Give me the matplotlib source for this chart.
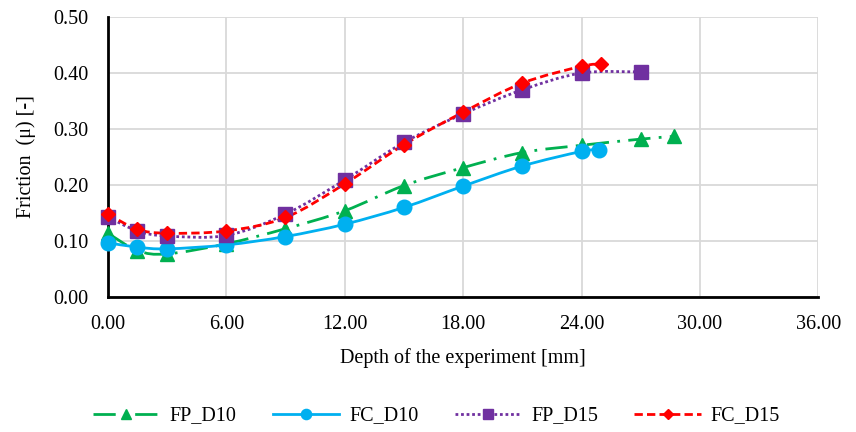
# friccion vs profundidad, 4 series con curvas suavizadas tipo Excel

import numpy as np
import matplotlib.pyplot as plt
from matplotlib.path import Path
from matplotlib.patches import PathPatch
from matplotlib.lines import Line2D

plt.rcParams['font.family'] = ['Liberation Serif', 'DejaVu Serif']

x_fp_d10 = [0, 1.5, 3, 6, 9, 12, 15, 18, 21, 24, 27, 28.7]
y_fp_d10 = [0.114, 0.083, 0.077, 0.095, 0.122, 0.154, 0.199, 0.231, 0.258, 0.271, 0.282, 0.287]

x_fc_d10 = [0, 1.5, 3, 6, 9, 12, 15, 18, 21, 24, 24.9]
y_fc_d10 = [0.097, 0.089, 0.086, 0.093, 0.108, 0.130, 0.160, 0.198, 0.234, 0.260, 0.263]

x_fp_d15 = [0, 1.5, 3, 6, 9, 12, 15, 18, 21, 24, 27]
y_fp_d15 = [0.143, 0.118, 0.109, 0.110, 0.148, 0.209, 0.276, 0.327, 0.370, 0.400, 0.402]

x_fc_d15 = [0, 1.5, 3, 6, 9, 12, 15, 18, 21, 24, 25]
y_fc_d15 = [0.148, 0.121, 0.114, 0.118, 0.142, 0.202, 0.272, 0.330, 0.382, 0.412, 0.416]

series = [
    ('FP_D10', x_fp_d10, y_fp_d10, '#00B050', (0, (8, 3, 1, 3)), '^', 10.5),
    ('FC_D10', x_fc_d10, y_fc_d10, '#00B0F0', '-', 'o', 10.5),
    ('FP_D15', x_fp_d15, y_fp_d15, '#7030A0', (0, (1, 1)), 's', 10),
    ('FC_D15', x_fc_d15, y_fc_d15, '#FF0000', (0, (3, 1.5)), 'D', 7.5),
]


def curva_suave(x, y):
    # bezier por segmentos (catmull-rom), como el suavizado de Excel
    p = np.column_stack([x, y])
    n = len(p)
    verts = [p[0]]
    codes = [Path.MOVETO]
    for i in range(n - 1):
        p0 = p[i - 1] if i > 0 else p[i]
        p3 = p[i + 2] if i + 2 < n else p[i + 1]
        c1 = p[i] + (p[i + 1] - p0) / 6
        c2 = p[i + 1] - (p3 - p[i]) / 6
        verts += [c1, c2, p[i + 1]]
        codes += [Path.CURVE4] * 3
    return Path(verts, codes)


fig = plt.figure(figsize=(8.56, 4.32), dpi=100)
ax = fig.add_axes([0.126, 0.3125, 0.83, 0.648])

handles = []
for nombre, x, y, color, ls, mk, ms in series:
    ax.add_patch(PathPatch(curva_suave(x, y), facecolor='none', edgecolor=color,
                           lw=2, linestyle=ls, zorder=3, clip_on=False))
    ax.plot(x, y, linestyle='none', marker=mk, color=color, markersize=ms,
            zorder=4, clip_on=False)
    handles.append(Line2D([], [], color=color, lw=2, linestyle=ls, marker=mk,
                          markersize=ms * 0.7, label=nombre))

ax.set_xlim(0, 36)
ax.set_ylim(0, 0.5)
ax.set_xticks(np.arange(0, 37, 6))
ax.set_yticks(np.arange(0, 0.51, 0.1))
ax.set_xticklabels([f'{v:.2f}' for v in np.arange(0, 37, 6)])
ax.set_yticklabels([f'{v:.2f}' for v in np.arange(0, 0.51, 0.1)])
ax.tick_params(axis='x', length=0, labelsize=14.5, pad=13)
ax.tick_params(axis='y', length=0, labelsize=14.5, pad=14)
ax.grid(True, color='#d9d9d9', lw=1.3)
ax.set_axisbelow(True)
for s in ['top', 'right']:
    ax.spines[s].set_visible(False)
for s in ['left', 'bottom']:
    ax.spines[s].set_linewidth(2)
    ax.spines[s].set_color('black')

ax.set_xlabel('Depth of the experiment [mm]', fontsize=14.5, labelpad=10)
ax.set_ylabel('Friction  (μ) [-]', fontsize=14.5, labelpad=12)

fig.legend(handles=handles, loc='center', bbox_to_anchor=(0.51, 16 / 432),
           ncol=4, frameon=False, fontsize=14.5, handlelength=3.3,
           handletextpad=0.5, columnspacing=1.8)

fig.savefig('out.png', dpi=100)
